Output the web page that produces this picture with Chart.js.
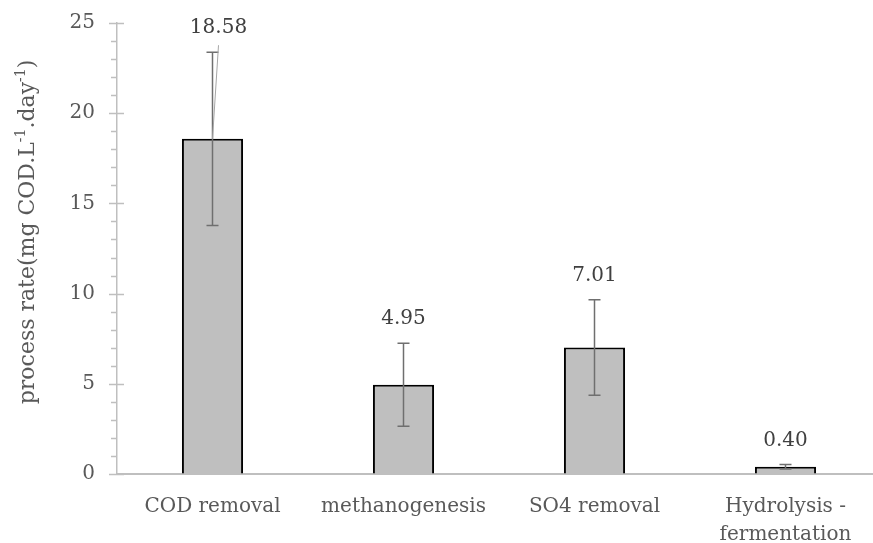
<!DOCTYPE html>
<html>
<head>
<meta charset="utf-8">
<script src="https://cdn.jsdelivr.net/npm/chart.js@4/dist/chart.umd.min.js"></script>
<style>
  html, body { margin: 0; padding: 0; background: #ffffff; overflow: hidden; }
  #wrap { position: relative; width: 890px; height: 543px; }
</style>
</head>
<body>
<div id="wrap"><canvas id="chart"></canvas></div>
<script>
// Process rates per step (mg COD per litre per day)
const categories = ['COD removal', 'methanogenesis', 'SO4 removal', ['Hydrolysis -', 'fermentation']];
const rates = [18.58, 4.95, 7.01, 0.40];
const errors = [4.8, 2.3, 2.65, 0.12];
const valueLabels = ['18.58', '4.95', '7.01', '0.40'];
const yTicks = [0, 5, 10, 15, 20, 25];

const FONT = '"DejaVu Serif", "Liberation Serif", serif';
const AXIS_GREY = '#bfbfbf';
const TEXT_GREY = '#595959';
const FS = 20;

// Y axis title with superscript exponents
const yTitle = [
  { t: 'process rate(mg COD.L', sup: false },
  { t: '-1', sup: true },
  { t: '.day', sup: false },
  { t: '-1', sup: true },
  { t: ')', sup: false }
];

const axisDecor = {
  id: 'axisDecor',
  afterDraw(chart) {
    const ctx = chart.ctx;
    const y = chart.scales.y;
    const x0 = y.right;
    ctx.save();
    ctx.strokeStyle = AXIS_GREY;
    ctx.lineWidth = 1.5;
    // minor ticks every unit, outside; major ticks crossing the axis
    for (let v = 0; v <= 25; v++) {
      const py = Math.round(y.getPixelForValue(v)) + 0.5;
      const major = yTicks.includes(v);
      ctx.beginPath();
      ctx.moveTo(major ? x0 - 8 : x0 - 6, py);
      ctx.lineTo(major ? x0 + 7 : x0, py);
      ctx.stroke();
    }
    // rotated axis title
    const base = 22, small = 14;
    ctx.fillStyle = TEXT_GREY;
    ctx.textBaseline = 'alphabetic';
    ctx.textAlign = 'left';
    let total = 0;
    yTitle.forEach(p => {
      ctx.font = (p.sup ? small : base) + 'px ' + FONT;
      total += ctx.measureText(p.t).width;
    });
    ctx.translate(34, 232);
    ctx.rotate(-Math.PI / 2);
    let cx = -total / 2;
    yTitle.forEach(p => {
      ctx.font = (p.sup ? small : base) + 'px ' + FONT;
      ctx.fillText(p.t, cx, p.sup ? -9 : 0);
      cx += ctx.measureText(p.t).width;
    });
    ctx.restore();
  }
};

const errorBarsAndLabels = {
  id: 'errorBarsAndLabels',
  afterDatasetsDraw(chart, args, opts) {
    const ctx = chart.ctx;
    const ys = chart.scales.y;
    const meta = chart.getDatasetMeta(0);
    ctx.save();
    meta.data.forEach((bar, i) => {
      const cx = bar.x;
      const top = ys.getPixelForValue(rates[i] + errors[i]);
      const bot = ys.getPixelForValue(rates[i] - errors[i]);
      ctx.strokeStyle = '#6f6f6f';
      ctx.lineWidth = 1.5;
      ctx.beginPath();
      ctx.moveTo(cx, top); ctx.lineTo(cx, bot);
      ctx.moveTo(cx - 6, top); ctx.lineTo(cx + 6, top);
      ctx.moveTo(cx - 6, bot); ctx.lineTo(cx + 6, bot);
      ctx.stroke();

      const lx = cx + opts.shift[i];
      const ly = top - 24;
      if (opts.shift[i] !== 0) {
        // leader line from shifted label down to bar top
        ctx.strokeStyle = '#a6a6a6';
        ctx.lineWidth = 1;
        ctx.beginPath();
        ctx.moveTo(lx, ly + 17);
        ctx.lineTo(cx, bar.y);
        ctx.stroke();
      }
      ctx.fillStyle = '#404040';
      ctx.font = FS + 'px ' + FONT;
      ctx.textAlign = 'center';
      ctx.textBaseline = 'middle';
      ctx.fillText(valueLabels[i], lx, ly);
    });
    ctx.restore();
  }
};

new Chart(document.getElementById('chart'), {
  type: 'bar',
  data: {
    labels: categories,
    datasets: [{
      data: rates,
      backgroundColor: '#bfbfbf',
      borderColor: '#000000',
      borderWidth: 2,
      borderSkipped: 'start',
      categoryPercentage: 1,
      barPercentage: 0.32
    }]
  },
  options: {
    responsive: true,
    maintainAspectRatio: false,
    animation: false,
    layout: { padding: { top: 23, right: 9, left: 0, bottom: 0 } },
    plugins: {
      legend: { display: false },
      tooltip: { enabled: false },
      errorBarsAndLabels: { shift: [6, 0, 0, 0] }
    },
    scales: {
      x: {
        grid: { display: false },
        border: { display: true, color: AXIS_GREY, width: 2 },
        ticks: {
          color: TEXT_GREY,
          font: { family: FONT, size: FS, lineHeight: 1.4 },
          padding: 11,
          maxRotation: 0,
          autoSkip: false
        },
        afterFit(scale) { scale.height = 69; }
      },
      y: {
        min: 0,
        max: 25,
        grid: {
          display: true,
          drawOnChartArea: false,
          drawTicks: true,
          tickLength: 22,
          tickColor: 'rgba(0,0,0,0)'
        },
        border: { display: true, color: AXIS_GREY, width: 1.5 },
        ticks: {
          stepSize: 5,
          color: TEXT_GREY,
          font: { family: FONT, size: FS },
          padding: 0,
          callback: (v) => yTicks.includes(v) ? String(v) : ''
        },
        afterFit(scale) { scale.width = 117; }
      }
    }
  },
  plugins: [axisDecor, errorBarsAndLabels]
});
</script>
</body>
</html>
